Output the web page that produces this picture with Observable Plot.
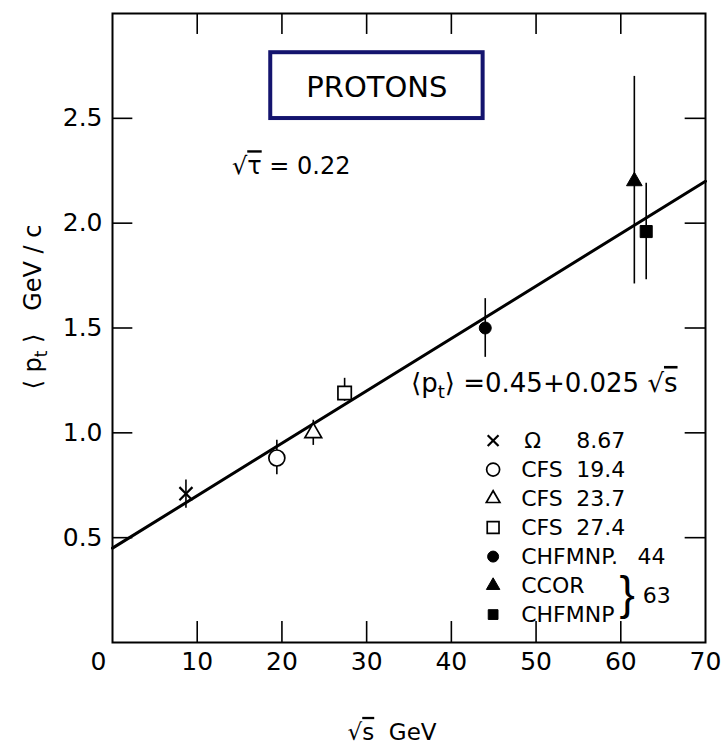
<!DOCTYPE html>
<html><head><meta charset="utf-8">
<script src="https://cdn.jsdelivr.net/npm/d3@7"></script>
<script src="https://cdn.jsdelivr.net/npm/@observablehq/plot@0.6"></script>
<style>html,body{margin:0;padding:0;background:#fff}</style>
</head><body><div id="chart"></div>
<script>
// ---- data ----
const experiments  = ["Ω", "CFS", "CFS", "CFS", "CHFMNP", "CCOR", "CHFMNP"];
const legendNames  = ["Ω", "CFS", "CFS", "CFS", "CHFMNP.", "CCOR", "CHFMNP"];
const energyLabels = ["8.67", "19.4", "23.7", "27.4", "44", "63", "63"];
const sqrtS   = [8.67, 19.4, 23.7, 27.4, 44, 61.6, 63.0];
const meanPt  = [0.71, 0.88, 1.00, 1.19, 1.50, 2.20, 1.96];
const errLow  = [0.64, 0.80, 0.94, 1.15, 1.36, 1.71, 1.73];
const errHigh = [0.775, 0.965, 1.06, 1.26, 1.64, 2.70, 2.19];
const fitSqrtS = [0, 70];
const fitPt    = [0.45, 2.20];
const xTicks = [10, 20, 30, 40, 50, 60, 70];
const xInnerTicks = [10, 20, 30, 40, 50, 60];
const yTicks = [0.5, 1.0, 1.5, 2.0, 2.5];

// ---- styles ----
const markerStyle = [
  {symbol: "times", filled: true,  r: 6,   lr: 5},
  {symbol: "circle", filled: false, r: 8, lr: 6.5},
  {symbol: "triangle2", filled: false, r: 8, lr: 6.5},
  {symbol: "square2", filled: false, r: 8.5, lr: 7.5},
  {symbol: "circle", filled: true,  r: 6,   lr: 5.5},
  {symbol: "triangle", filled: true, r: 5.8, lr: 5},
  {symbol: "square", filled: true,  r: 6.8, lr: 5.5}
];
const FONT = "DejaVu Sans";
const points = sqrtS.map((x, i) => ({x, y: meanPt[i], lo: errLow[i], hi: errHigh[i], exp: experiments[i], e: energyLabels[i], i}));
const fit = fitSqrtS.map((x, i) => ({x, y: fitPt[i]}));

// legend layout (data units)
const legX = 44.93, legNameX = 48.24, legValX = 54.75, legValX2 = 61.96;
const rowY = i => 0.963 - 0.1383 * i;
const legend = legendNames.map((n, i) => ({n, i, y: rowY(i), e: energyLabels[i]}));

function dotMark(d, st, r, x, y) {
  const open = !st.filled;
  return Plot.dot([d], {x, y, symbol: () => st.symbol, r,
    fill: st.symbol === "times" ? "none" : (open ? "white" : "black"),
    stroke: "black", strokeWidth: st.symbol === "times" ? 2.2 : (open ? 1.7 : 1)});
}

const marks = [
  Plot.frame({stroke: "black", strokeWidth: 2}),
  // inward ticks
  Plot.ruleX(xInnerTicks, {x: d => d, y1: 0, y2: 0.1, stroke: "black", strokeWidth: 1.6}),
  Plot.ruleX(xInnerTicks, {x: d => d, y1: 3, y2: 2.9, stroke: "black", strokeWidth: 1.6}),
  Plot.ruleY(yTicks, {y: d => d, x1: 0, x2: 2.4, stroke: "black", strokeWidth: 1.6}),
  Plot.ruleY(yTicks, {y: d => d, x1: 70, x2: 67.6, stroke: "black", strokeWidth: 1.6}),
  // fit line
  Plot.line(fit, {x: "x", y: "y", stroke: "black", strokeWidth: 3}),
  // error bars
  Plot.ruleX(points, {x: "x", y1: "lo", y2: "hi", stroke: "black", strokeWidth: 1.6}),
  ...points.map(d => dotMark(d, markerStyle[d.i], markerStyle[d.i].r, "x", "y")),
  // PROTONS box
  Plot.rect([{x1: 18.68, x2: 43.75, y1: 2.499, y2: 2.813}], {x1: "x1", x2: "x2", y1: "y1", y2: "y2", fill: "none", stroke: "#14146e", strokeWidth: 4}),
  Plot.text(["PROTONS"], {x: 31.2, y: 2.645, fontSize: 29, fontFamily: FONT}),
  Plot.text(["√{τ} = 0.22"], {x: 14.1, y: 2.27, textAnchor: "start", fontSize: 24, fontFamily: FONT}),
  Plot.text(["⟨p_{t}⟩ =0.45+0.025 √{s}"], {x: 35.24, y: 1.235, textAnchor: "start", fontSize: 26, fontFamily: FONT}),
  // legend
  ...legend.map(d => dotMark(d, markerStyle[d.i], markerStyle[d.i].lr, () => legX, "y")),
  Plot.text(legend, {x: d => d.i === 0 ? 48.6 : legNameX, y: "y", text: "n", textAnchor: "start", fontSize: 22, fontFamily: FONT}),
  Plot.text(legend.filter(d => d.i < 5), {x: d => d.i === 4 ? legValX2 : legValX, y: "y", text: "e", textAnchor: "start", fontSize: 22, fontFamily: FONT}),
  Plot.text(["}"], {x: 60.75, y: rowY(5.3), fontSize: 46, fontFamily: "Liberation Sans"}),
  Plot.text([energyLabels[5]], {x: 62.6, y: rowY(5.35), textAnchor: "start", fontSize: 22, fontFamily: FONT}),
  // origin label and axis titles
  Plot.text(["0"], {x: 0, y: 0, dx: -6, dy: 10, textAnchor: "end", lineAnchor: "top", fontSize: 25, fontFamily: FONT}),
  Plot.text(["√{s}\u00a0\u00a0GeV"], {x: 33.0, y: 0, dy: 90, fontSize: 23, fontFamily: FONT}),
  Plot.text(["⟨\u00a0p_{t}\u00a0⟩\u00a0\u00a0\u00a0GeV\u00a0/\u00a0c"], {x: 0, y: 1.60, dx: -79, rotate: -90, fontSize: 24, fontFamily: FONT})
];

const chart = Plot.plot({
  width: 727, height: 748,
  marginLeft: 112, marginRight: 22, marginTop: 13, marginBottom: 106,
  style: {fontFamily: FONT, fontSize: "25px", background: "white", color: "black", overflow: "visible"},
  x: {domain: [0, 70], ticks: xTicks, tickSize: 0, tickPadding: 10, label: null, tickFormat: d => String(d)},
  y: {domain: [0, 3], ticks: yTicks, tickSize: 0, tickPadding: 10, label: null, tickFormat: d3.format(".1f")},
  marks
});

function enrich(svg) {
  const ns = "http://www.w3.org/2000/svg";
  svg.querySelectorAll("text").forEach(el => {
    const s = el.textContent;
    if (!/_\{|√\{/.test(s)) return;
    while (el.firstChild) el.removeChild(el.firstChild);
    const re = /_\{([^}]*)\}|√\{([^}]*)\}/g;
    let last = 0, m, up = false;
    const add = (txt, attrs = {}) => {
      const t = document.createElementNS(ns, "tspan");
      t.textContent = txt;
      for (const [k, v] of Object.entries(attrs)) t.setAttribute(k, v);
      el.appendChild(t);
    };
    const plain = txt => { if (!txt) return; add(txt, up ? {dy: "-0.25em"} : {}); up = false; };
    while ((m = re.exec(s))) {
      plain(s.slice(last, m.index));
      if (m[1] !== undefined) { add(m[1], {dy: "0.36em", "font-size": "70%"}); up = true; }
      else { plain("√"); add(m[2], {style: "text-decoration: overline"}); }
      last = re.lastIndex;
    }
    plain(s.slice(last));
  });
}
enrich(chart);
document.getElementById("chart").appendChild(chart);
</script>
</body></html>
